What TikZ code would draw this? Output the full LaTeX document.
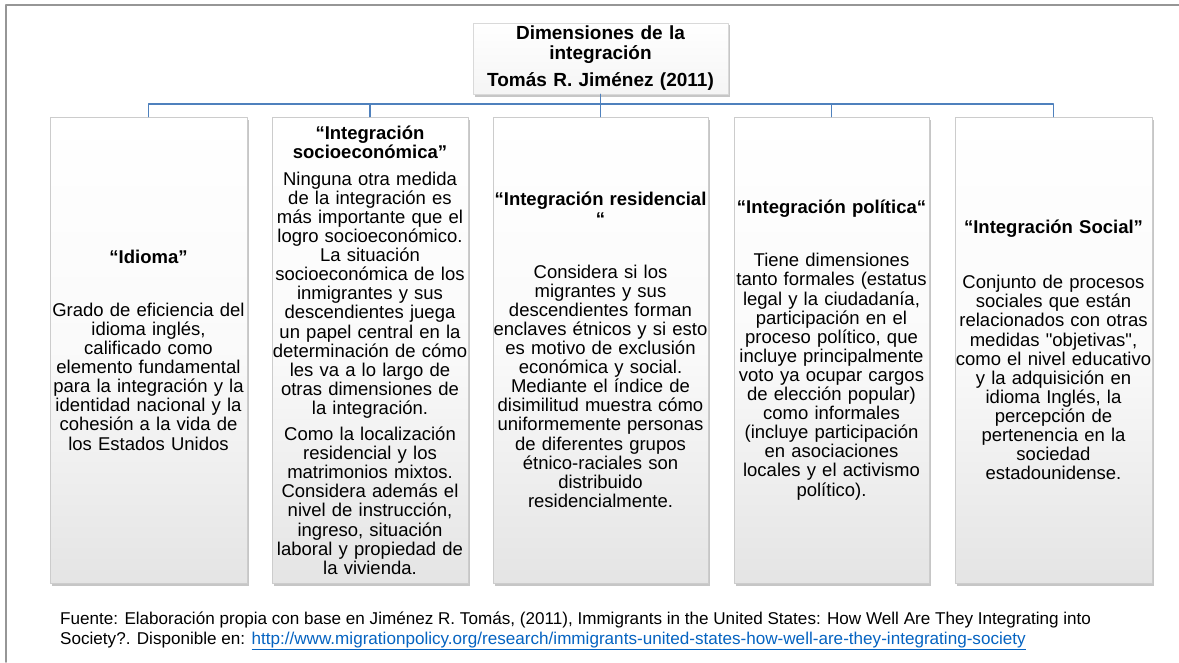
\documentclass[tikz,border=0pt]{standalone}
\usepackage{fontspec}
\setmainfont{Liberation Sans}
\newfontfamily\plainsans{Liberation Sans}
\usetikzlibrary{shadows}
\definecolor{connblue}{RGB}{79,129,189}
\definecolor{linkblue}{RGB}{5,99,193}
\definecolor{framegray}{RGB}{150,150,150}
\newcommand{\boxfont}{\fontsize{18.5}{19.1}\selectfont}
\newcommand{\headfont}{\fontsize{19}{20}\selectfont\bfseries}
\newcommand{\notefont}{\fontsize{17.1}{20}\selectfont}
\newcommand{\dq}{{\plainsans\symbol{34}}}
\begin{document}
\begin{tikzpicture}[x=1pt, y=-1pt, line join=round, line cap=round,
  dimbox/.style={draw=gray!40, line width=0.6pt, top color=white, bottom color=gray!21, middle color=gray!4,
    drop shadow={shadow xshift=2pt, shadow yshift=-2.5pt, opacity=0.45, fill=gray},
    minimum height=466pt, inner xsep=0pt, align=center, font=\boxfont},
  headbox/.style={draw=gray!30, line width=0.6pt, top color=white, bottom color=gray!8,
    drop shadow={shadow xshift=2pt, shadow yshift=-2.5pt, opacity=0.45, fill=gray},
    text width=255pt, minimum height=70pt, inner xsep=0pt, align=center, font=\headfont},
  conn/.style={draw=connblue, line width=1.2pt},
  note/.style={anchor=base west, inner sep=0pt, font=\notefont}]
  \useasboundingbox (0,0) rectangle (1179,662);
  \draw[framegray, line width=1.5pt] (1179,5) -- (6,5) -- (6,662);
  % cabecera
  \node[headbox] (dims) at (600.5,58.5) {Dimensiones de la\\ integración\\[7pt] Tomás R. Jiménez (2011)};
  % las cinco dimensiones
  \node[dimbox, text width=197pt] (idioma) at (148.5,350) {{\bfseries “Idioma”}\\[34pt]
    Grado de eficiencia del\\ idioma inglés,\\ calificado como\\ elemento fundamental\\
    para la integración y la\\ identidad nacional y la\\ cohesión a la vida de\\ los Estados Unidos};
  \node[dimbox, text width=196pt] (socioeco) at (370,350) {{\bfseries “Integración\\ socioeconómica”}\\[8pt]
    Ninguna otra medida\\ de la integración es\\ más importante que el\\ logro socioeconómico.\\
    La situación\\ socioeconómica de los\\ inmigrantes y sus\\ descendientes juega\\
    un papel central en la\\ determinación de cómo\\ les va a lo largo de\\ otras dimensiones de\\
    la integración.\\[7pt]
    Como la localización\\ residencial y los\\ matrimonios mixtos.\\ Considera además el\\
    nivel de instrucción,\\ ingreso, situación\\ laboral y propiedad de\\ la vivienda.};
  \node[dimbox, text width=215pt] (resid) at (600.5,350) {{\bfseries “Integración residencial\\ “}\\[34pt]
    Considera si los\\ migrantes y sus\\ descendientes forman\\ enclaves étnicos y si esto\\
    es motivo de exclusión\\ económica y social.\\ Mediante el índice de\\ disimilitud muestra cómo\\
    uniformemente personas\\ de diferentes grupos\\ étnico-raciales son\\ distribuido\\ residencialmente.};
  \node[dimbox, text width=195pt] (polit) at (831.5,350) {{\bfseries “Integración política“}\\[34pt]
    Tiene dimensiones\\ tanto formales (estatus\\ legal y la ciudadanía,\\ participación en el\\
    proceso político, que\\ incluye principalmente\\ voto ya ocupar cargos\\ de elección popular)\\
    como informales\\ (incluye participación\\ en asociaciones\\ locales y el activismo\\ político).};
  \node[dimbox, text width=197pt] (social) at (1053.5,350) {{\bfseries “Integración Social”}\\[36pt]
    Conjunto de procesos\\ sociales que están\\ relacionados con otras\\ medidas \dq objetivas\dq,\\
    como el nivel educativo\\ y la adquisición en\\ idioma Inglés, la\\ percepción de\\
    pertenencia en la\\ sociedad\\ estadounidense.};
  \coordinate (bus) at (600.5,104);
  \foreach \b in {idioma,socioeco,resid,polit,social}
    \draw[conn] (dims.south) |- (bus) -| (\b.north);
  % fuente
  \node[note] (fuente) at (60,624.5) {Fuente: Elaboración propia con base en Jiménez R. Tomás, (2011), Immigrants in the United States: How Well Are They Integrating into};
  \node[note] (disp) at (60,644.5) {Society?. Disponible en: \textcolor{linkblue}{\underline{http://www.migrationpolicy.org/research/immigrants-united-states-how-well-are-they-integrating-society}}};
\end{tikzpicture}
\end{document}
